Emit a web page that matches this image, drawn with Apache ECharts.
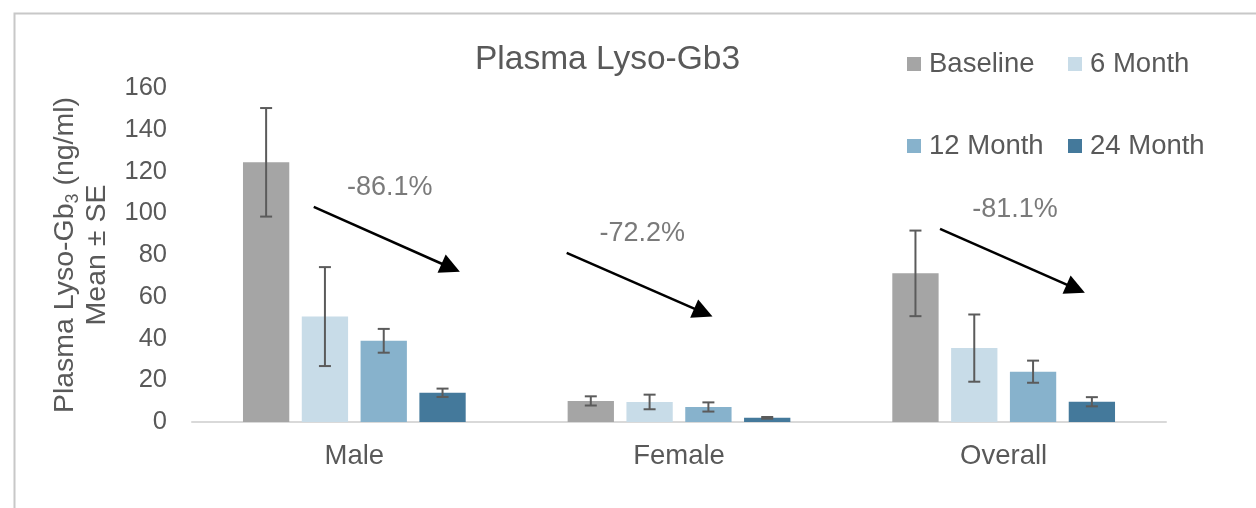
<!DOCTYPE html>
<html>
<head>
<meta charset="utf-8">
<script src="https://cdn.jsdelivr.net/npm/echarts@6/dist/echarts.min.js"></script>
<style>
html,body{margin:0;padding:0;background:#fff;}
#chart{width:1256px;height:508px;}
</style>
</head>
<body>
<div id="chart"></div>
<script>
// ---- data ----
const categories = ['Male', 'Female', 'Overall'];
const seriesNames = ['Baseline', '6 Month', '12 Month', '24 Month'];
const baseline = [124.4, 10.1, 71.2];
const month6 = [50.5, 9.6, 35.4];
const month12 = [38.9, 7.2, 24.1];
const month24 = [14.0, 2.0, 9.7];
const seBaseline = [26.0, 2.2, 20.5];
const seMonth6 = [23.7, 3.5, 16.1];
const seMonth12 = [5.7, 2.2, 5.3];
const seMonth24 = [2.0, 0.4, 2.2];
const yTicks = [0, 20, 40, 60, 80, 100, 120, 140, 160];
// change annotations: label position and arrow from/to, in (category-offset, value) space
const changeLabels = ['-86.1%', '-72.2%', '-81.1%'];
const labelX = [0.109, 0.887, 2.035];
const labelY = [112.3, 90.5, 101.6];
const arrowFromX = [-0.125, 0.654, 1.804];
const arrowFromY = [103.1, 81.0, 92.5];
const arrowToX = [0.297, 1.075, 2.222];
const arrowToY = [73.9, 52.4, 63.9];

const colors = ['#A5A5A5', '#C8DCE8', '#87B2CC', '#44799B'];
const textColor = '#595959';
const font = 'Liberation Sans';
const catGap = 0.314, barGapR = 0.27;

const values = [baseline, month6, month12, month24];
const ses = [seBaseline, seMonth6, seMonth12, seMonth24];

const chart = echarts.init(document.getElementById('chart'));

const barSeries = seriesNames.map((n, k) => ({
  type: 'bar',
  name: n,
  data: values[k],
  barCategoryGap: (catGap * 100) + '%',
  barGap: (barGapR * 100) + '%',
  itemStyle: { color: colors[k] },
  emphasis: { disabled: true }
}));

const errSeries = seriesNames.map((n, k) => ({
  type: 'custom',
  xAxisIndex: 0,
  yAxisIndex: 0,
  z: 10,
  silent: true,
  data: values[k].map((v, i) => [i, v - ses[k][i], v + ses[k][i]]),
  renderItem: function (params, api) {
    const ci = api.value(0);
    const lo = api.coord([ci, api.value(1)]);
    const hi = api.coord([ci, api.value(2)]);
    const band = api.size([1, 0])[0];
    const w = band * (1 - catGap) / (4 + 3 * barGapR);
    const cx = lo[0] + (k - 1.5) * w * (1 + barGapR);
    const cap = 6;
    const st = { stroke: '#5b5b5b', lineWidth: 2 };
    return {
      type: 'group',
      children: [
        { type: 'line', shape: { x1: cx, y1: lo[1], x2: cx, y2: hi[1] }, style: st },
        { type: 'line', shape: { x1: cx - cap, y1: lo[1], x2: cx + cap, y2: lo[1] }, style: st },
        { type: 'line', shape: { x1: cx - cap, y1: hi[1], x2: cx + cap, y2: hi[1] }, style: st }
      ]
    };
  }
}));

const arrowSeries = {
  type: 'line',
  xAxisIndex: 1,
  yAxisIndex: 0,
  data: [],
  silent: true,
  markLine: {
    silent: true,
    symbol: ['none', 'triangle'],
    symbolSize: 20,
    label: { show: false },
    lineStyle: { color: '#000', width: 2.5, type: 'solid' },
    emphasis: { disabled: true },
    data: changeLabels.map((_, i) => [
      { coord: [arrowFromX[i], arrowFromY[i]] },
      { coord: [arrowToX[i], arrowToY[i]] }
    ])
  }
};

const labelSeries = {
  type: 'scatter',
  xAxisIndex: 1,
  yAxisIndex: 0,
  symbolSize: 0,
  silent: true,
  data: changeLabels.map((t, i) => [labelX[i], labelY[i], t]),
  label: {
    show: true,
    position: 'inside',
    formatter: p => p.data[2],
    fontFamily: font,
    fontSize: 27,
    color: textColor
  }
};

function legendAt(name, left, top) {
  return {
    data: [name],
    left: left,
    top: top,
    padding: 0,
    icon: 'rect',
    itemWidth: 14,
    itemHeight: 14,
    selectedMode: false,
    textStyle: { fontFamily: font, fontSize: 27.5, color: textColor, lineHeight: 28, padding: [0, 0, 0, 3] }
  };
}

chart.setOption({
  animation: false,
  backgroundColor: '#fff',
  title: {
    text: 'Plasma Lyso-Gb3',
    left: 470,
    top: 38,
    textStyle: { fontFamily: font, fontSize: 33.5, fontWeight: 'normal', color: textColor }
  },
  legend: [
    legendAt('Baseline', 907, 50),
    legendAt('6 Month', 1068, 50),
    legendAt('12 Month', 907, 132),
    legendAt('24 Month', 1068, 132)
  ],
  graphic: [{
    type: 'rect',
    left: 12, top: 11,
    shape: { width: 1400, height: 700 },
    style: { fill: 'none', stroke: '#c8c8c8', lineWidth: 2 },
    silent: true
  }],
  grid: { left: 192, right: 90, top: 88, bottom: 86 },
  xAxis: [{
    type: 'category',
    data: categories,
    axisTick: { show: false },
    axisLine: { lineStyle: { color: '#d9d9d9', width: 2 } },
    axisLabel: { fontFamily: font, fontSize: 27.5, color: textColor, margin: 20 }
  }, {
    type: 'value',
    min: -0.5, max: 2.5,
    show: false
  }],
  yAxis: [{
    type: 'value',
    min: yTicks[0],
    max: yTicks[yTicks.length - 1],
    interval: yTicks[1] - yTicks[0],
    axisLine: { show: false },
    axisTick: { show: false },
    splitLine: { show: false },
    axisLabel: { fontFamily: font, fontSize: 25.5, color: textColor, margin: 25 },
    name: '{a|Plasma Lyso-Gb}{s|3}{a| (ng/ml)}\n{a|Mean ± SE}',
    nameLocation: 'middle',
    nameGap: 78,
    nameTextStyle: {
      fontFamily: font,
      color: textColor,
      lineHeight: 32,
      rich: {
        a: { fontFamily: font, fontSize: 28.5, color: textColor, lineHeight: 32 },
        s: { fontFamily: font, fontSize: 18, color: textColor, lineHeight: 18, verticalAlign: 'bottom' }
      }
    }
  }],
  series: [...barSeries, ...errSeries, arrowSeries, labelSeries]
});
</script>
</body>
</html>
